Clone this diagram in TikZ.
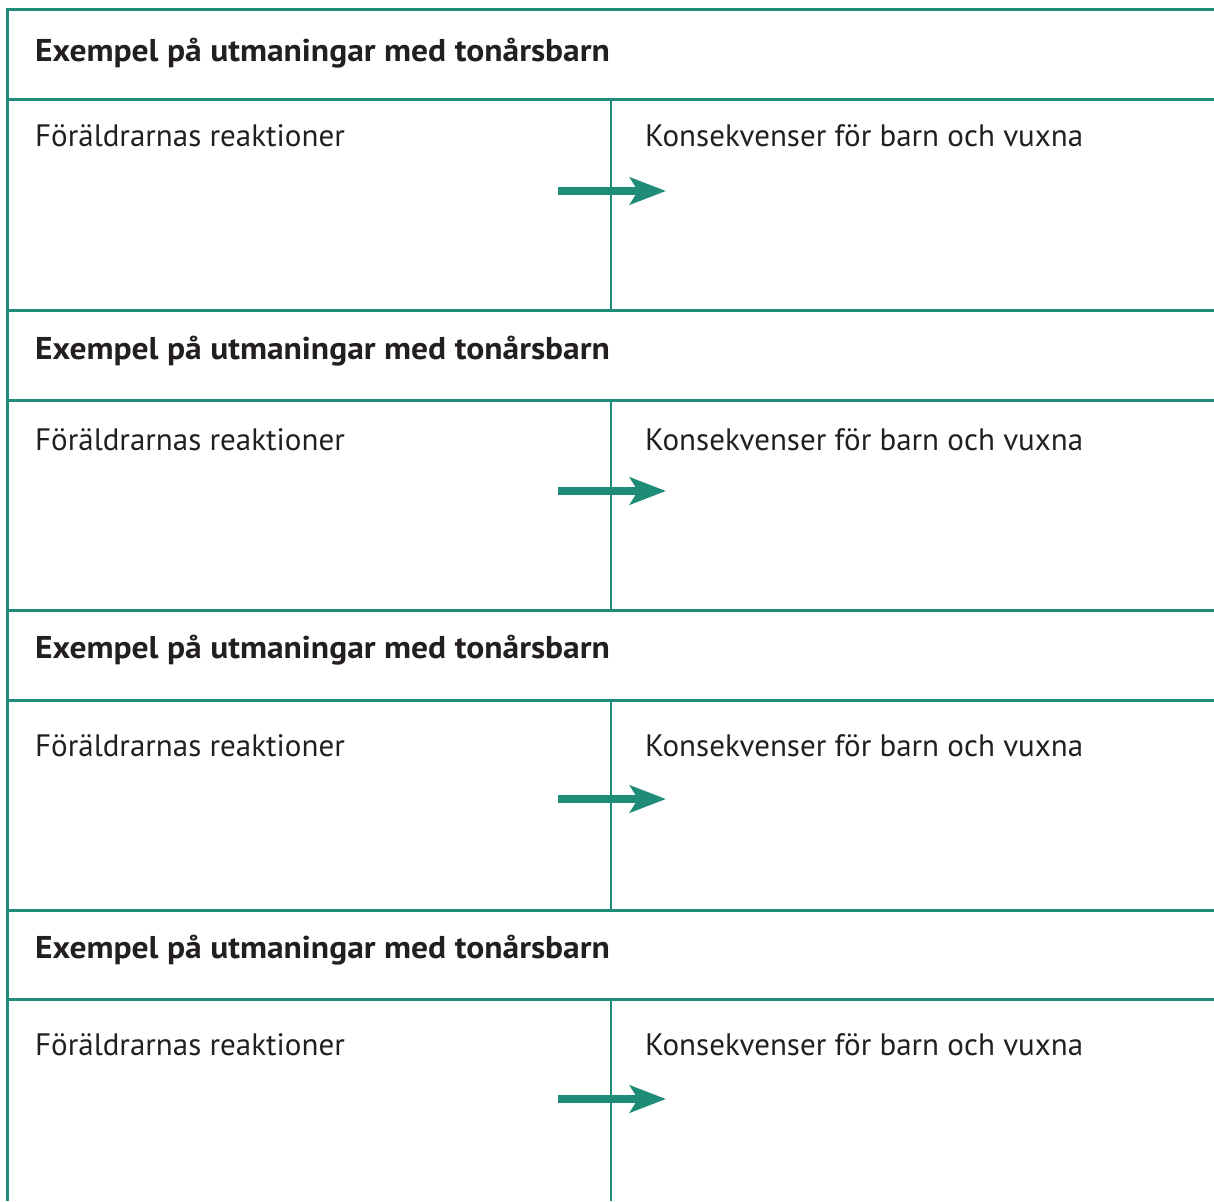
\documentclass[tikz,border=0pt]{standalone}
\usepackage{fontspec}
\setmainfont{PT Sans}[BoldFeatures={FakeStretch=1.065}]
\usetikzlibrary{arrows.meta}
\definecolor{teal}{RGB}{30,140,120}
\definecolor{ink}{RGB}{35,31,32}
\tikzset{
  rule/.style={draw=teal, line width=3pt},
  divider/.style={draw=teal, line width=2.6pt},
  headtext/.style={anchor=base west, inner sep=0pt, text=ink, font=\fontsize{31.5}{36}\selectfont\bfseries},
  bodytext/.style={anchor=base west, inner sep=0pt, text=ink, font=\fontsize{31}{36}\selectfont},
  flow/.style={draw=teal, line width=7.5pt, -{Stealth[length=36pt, width=27pt, inset=8pt]}},
}
\begin{document}
\begin{tikzpicture}[x=1pt, y=-1pt]
\useasboundingbox (0,0) rectangle (1214,1201);
% frame
\draw[rule] (7,1201) -- (7,10) -- (1214,10);
\foreach \y in {100,310,400,610,700,910,999} {
  \draw[rule] (7,\y) -- (1214,\y);
}
% dividers
\draw[divider] (611,100) -- (611,310);
\draw[divider] (611,400) -- (611,610);
\draw[divider] (611,700) -- (611,910);
\draw[divider] (611,999) -- (611,1201);
% texts
\foreach \i/\hb/\bb/\ay in {1/62/147/191, 2/359/450/491, 3/658/756/799, 4/958/1055/1099} {
  \node[headtext] (head\i) at (35,\hb) {Exempel på utmaningar med tonårsbarn};
  \node[bodytext] (react\i) at (35,\bb) {Föräldrarnas reaktioner};
  \node[bodytext] (cons\i) at (645,\bb) {Konsekvenser för barn och vuxna};
  \coordinate (from\i) at (558,\ay);
  \coordinate (to\i) at (666,\ay);
  \draw[flow] (from\i) -- (to\i);
}
\end{tikzpicture}
\end{document}
